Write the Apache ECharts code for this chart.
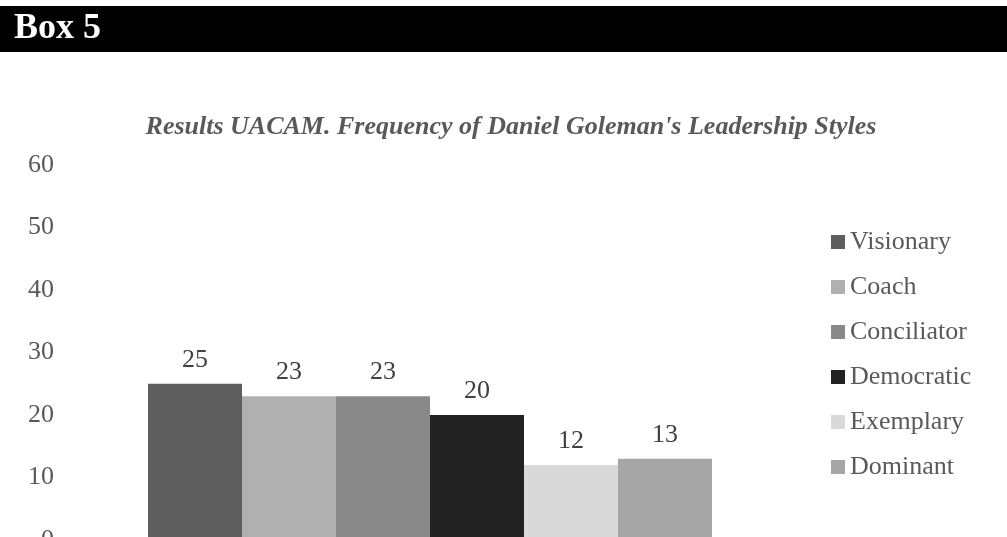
<!DOCTYPE html>
<html>
<head>
<meta charset="utf-8">
<title>Box 5</title>
<script src="https://cdn.jsdelivr.net/npm/echarts@6/dist/echarts.min.js"></script>
<style>
  html, body { margin: 0; padding: 0; background: #ffffff; }
  #chart { width: 1007px; height: 537px; }
</style>
</head>
<body>
<div id="chart"></div>
<script>
// Leadership style frequencies (UACAM survey)
const categories = ['UACAM'];
const styleNames = ['Visionary', 'Coach', 'Conciliator', 'Democratic', 'Exemplary', 'Dominant'];
const styleValues = [25, 23, 23, 20, 12, 13];
const styleColors = ['#5e5e5e', '#b0b0b0', '#898989', '#222222', '#d9d9d9', '#a6a6a6'];
const yTicks = { min: 0, max: 60, interval: 10 };

const serif = '"Liberation Serif", "Times New Roman", serif';

const chart = echarts.init(document.getElementById('chart'), null, { renderer: 'canvas' });

const series = styleNames.map((name, i) => ({
  name: name,
  type: 'bar',
  data: [styleValues[i]],
  barWidth: 94,
  barGap: '0%',
  itemStyle: { color: styleColors[i] },
  label: {
    show: true,
    position: 'top',
    distance: 11,
    color: '#404040',
    fontFamily: serif,
    fontSize: 26
  }
}));

chart.setOption({
  animation: false,
  backgroundColor: '#ffffff',
  graphic: [
    {
      type: 'rect',
      shape: { x: 0, y: 6, width: 1007, height: 46 },
      style: { fill: '#000000' }
    },
    {
      type: 'text',
      x: 14,
      y: 29,
      style: {
        text: 'Box 5',
        fill: '#ffffff',
        font: 'bold 36px ' + serif,
        textVerticalAlign: 'middle'
      }
    },
    {
      type: 'text',
      x: 511,
      y: 127,
      style: {
        text: "Results UACAM. Frequency of Daniel Goleman's Leadership Styles",
        fill: '#595959',
        font: 'italic bold 26px ' + serif,
        textAlign: 'center',
        textVerticalAlign: 'middle'
      }
    }
  ],
  legend: {
    orient: 'vertical',
    left: 831,
    top: 229,
    padding: 0,
    icon: 'rect',
    itemWidth: 14,
    itemHeight: 14,
    itemGap: 19,
    textStyle: { color: '#595959', fontFamily: serif, fontSize: 26 },
    data: styleNames
  },
  grid: {
    left: 90,
    top: 165,
    width: 680,
    height: 375,
    outerBoundsMode: 'none',
    containLabel: false
  },
  xAxis: {
    type: 'category',
    data: categories,
    axisLine: { show: false },
    axisTick: { show: false },
    axisLabel: { show: false }
  },
  yAxis: {
    type: 'value',
    min: yTicks.min,
    max: yTicks.max,
    interval: yTicks.interval,
    axisLine: { show: false },
    axisTick: { show: false },
    splitLine: { show: false },
    axisLabel: {
      margin: 36,
      color: '#595959',
      fontFamily: serif,
      fontSize: 26
    }
  },
  series: series
});
</script>
</body>
</html>
